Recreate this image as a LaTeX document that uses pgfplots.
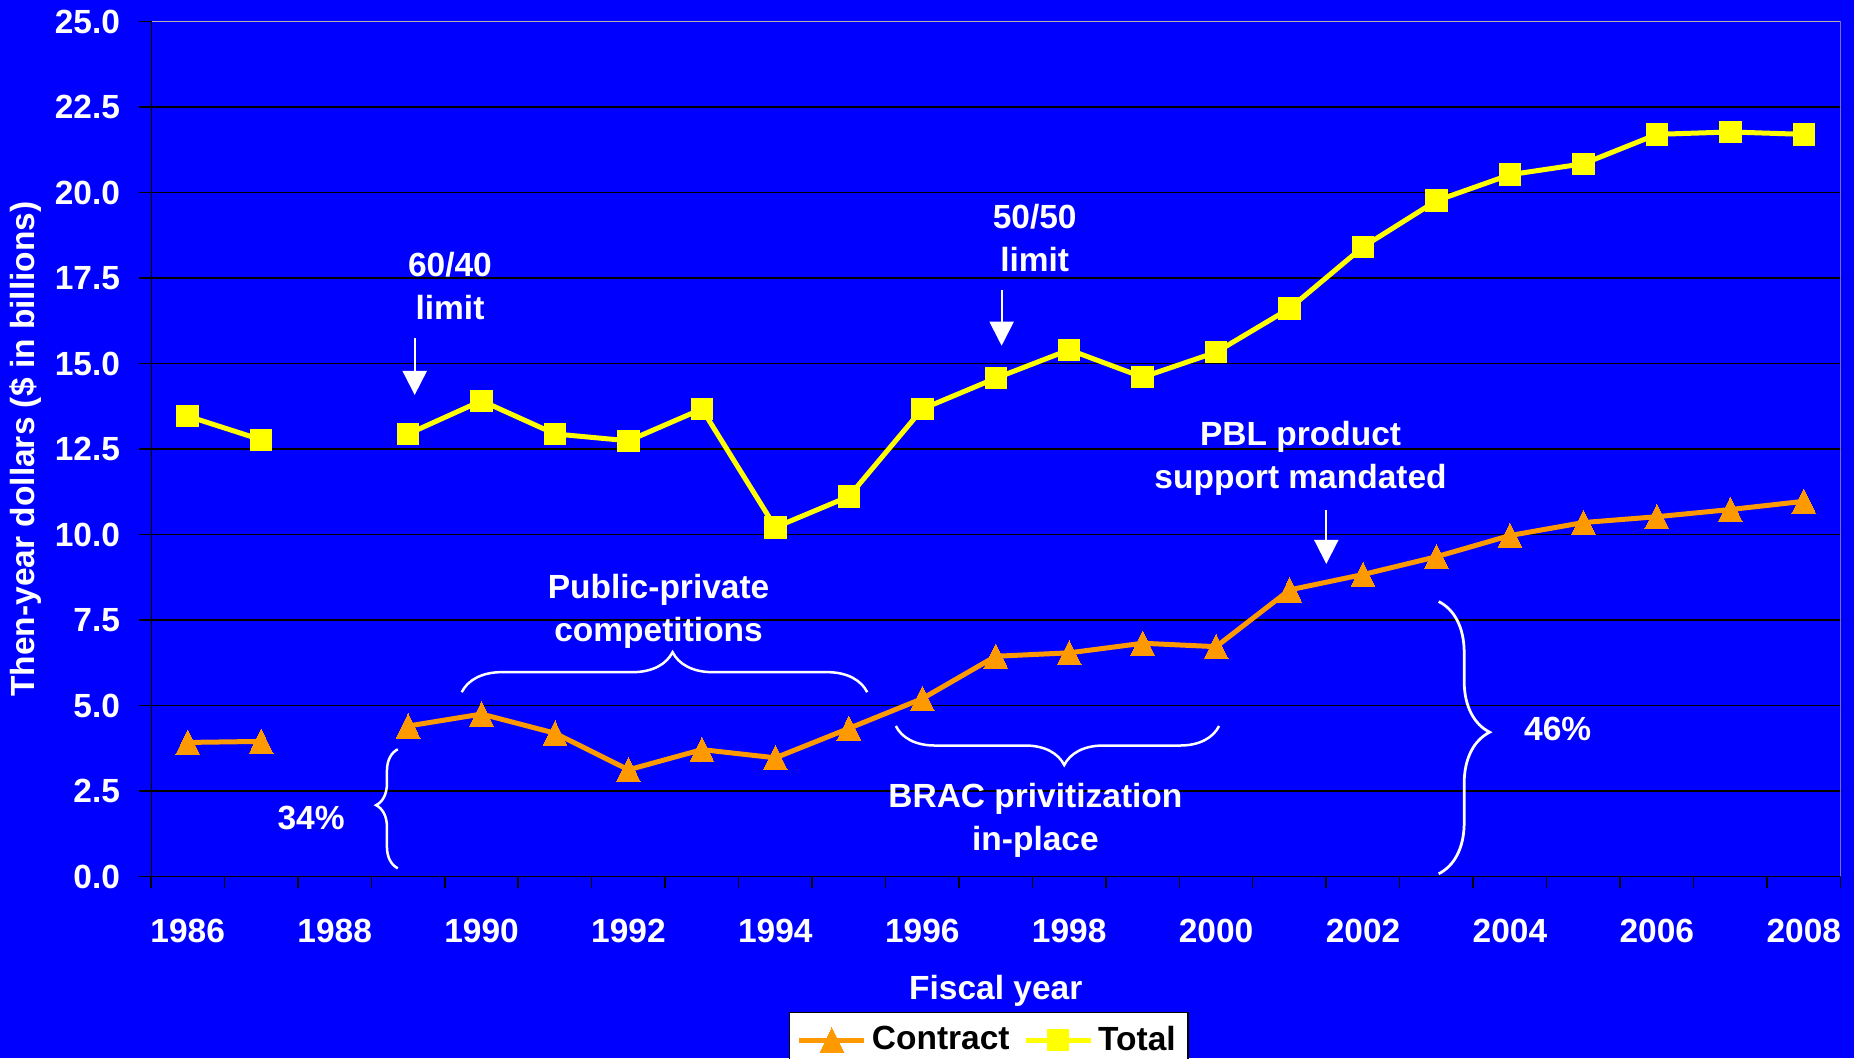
\documentclass[border=0pt]{standalone}
\usepackage{fontspec}
\setmainfont{Liberation Sans}
\usepackage{pgfplots}
\pgfplotsset{compat=1.18}
\usetikzlibrary{arrows.meta,decorations.pathreplacing}
\definecolor{bgblue}{RGB}{0,0,255}
\definecolor{cyellow}{RGB}{255,255,0}
\definecolor{corange}{RGB}{255,153,0}
\newcommand{\lf}{\fontsize{13.4}{17.2}\selectfont\bfseries}
\begin{document}
\begin{tikzpicture}
\fill[bgblue] (-60.4pt,-72.6pt) rectangle (681.2pt,350.6pt);
\begin{axis}[
  at={(0pt,0pt)}, anchor=south west,
  width=675.8pt, height=342pt, scale only axis,
  xmin=1985.5, xmax=2008.5, ymin=0, ymax=25,
  axis line style={draw=none},
  unbounded coords=jump,
  xtick={1986,1988,...,2008},
  xticklabels={1986,1988,1990,1992,1994,1996,1998,2000,2002,2004,2006,2008},
  minor xtick={1985.5,1986.5,...,2008.5},
  ytick={0,2.5,...,25},
  ymajorgrids,
  major grid style={black, line width=0.5pt},
  tick align=outside, tick pos=left,
  major tick length=4.8pt, minor tick length=4.5pt,
  tick style={black, line width=0.6pt},
  major x tick style={draw=none},
  /pgf/number format/assume math mode=true,
  ticklabel style={font=\lf, text=white},
  xticklabel style={anchor=center, inner sep=0pt, yshift=-16.9pt},
  yticklabel style={anchor=east, inner sep=0pt, xshift=-7.4pt,
    /pgf/number format/fixed, /pgf/number format/fixed zerofill, /pgf/number format/precision=1},
  xlabel={Fiscal year},
  xlabel style={at={(axis description cs:0.5,0)}, anchor=center, yshift=-45.6pt, font=\lf, text=white},
  ylabel={Then-year dollars (\$ in billions)},
  ylabel style={at={(axis description cs:-0.074,0.5)}, anchor=center, font=\lf, text=white},
  legend columns=2,
  legend style={at={(axis description cs:0.4959,-0.1582)}, anchor=north, draw=black, fill=white,
    line width=0.5pt, font=\lf, text=black, inner xsep=2.9pt, inner ysep=3.5pt,
    column sep=0pt, nodes={inner xsep=2.0pt, inner ysep=2pt},
    /tikz/every even column/.append style={column sep=3.4pt}},
  legend image code/.code={\draw[mark repeat=2,mark phase=2,#1] plot coordinates {(0pt,0pt)(13pt,0pt)(26pt,0pt)};},
]
\addplot[corange, line width=2pt, mark=triangle*, mark size=5.5pt,
  mark options={solid, fill=corange, draw=corange, line width=0pt, yshift=-1.6pt, yscale=1.18}] coordinates {
(1986,3.92)(1987,3.95)(1988,nan)(1989,4.40)(1990,4.75)(1991,4.19)(1992,3.12)(1993,3.71)
(1994,3.47)(1995,4.33)(1996,5.20)(1997,6.44)(1998,6.54)(1999,6.82)(2000,6.72)
(2001,8.38)(2002,8.83)(2003,9.35)(2004,9.97)(2005,10.35)(2006,10.52)(2007,10.73)(2008,10.97)};
\addplot[cyellow, line width=2pt, mark=square*, mark size=4.3pt,
  mark options={solid, fill=cyellow, draw=cyellow, line width=0pt}] coordinates {
(1986,13.46)(1987,12.77)(1988,nan)(1989,12.94)(1990,13.91)(1991,12.94)(1992,12.74)(1993,13.67)
(1994,10.21)(1995,11.11)(1996,13.67)(1997,14.57)(1998,15.40)(1999,14.60)(2000,15.33)
(2001,16.61)(2002,18.41)(2003,19.76)(2004,20.52)(2005,20.84)(2006,21.70)(2007,21.77)(2008,21.70)};
\legend{Contract,Total}
% borders
\draw[gray!60, line width=0.6pt] (rel axis cs:0,1) -- (rel axis cs:1,1) -- (rel axis cs:1,0);
\draw[black, line width=0.6pt] (rel axis cs:0,1) -- (rel axis cs:0,0) -- (rel axis cs:1,0);
% annotations
\node[font=\lf, text=white, align=center] at (axis cs:1989.57,17.27) {60/40\\limit};
\node[font=\lf, text=white, align=center] at (axis cs:1997.53,18.67) {50/50\\limit};
\node[font=\lf, text=white, align=center] at (axis cs:2001.15,12.23) {PBL product\\support mandated};
\node[font=\lf, text=white, align=center] at (axis cs:1992.41,7.76) {Public-private\\competitions};
\node[font=\lf, text=white, align=center] at (axis cs:1997.54,1.64) {BRAC privitization\\in-place};
\node[font=\lf, text=white] at (axis cs:1987.68,1.70) {34\%};
\node[font=\lf, text=white] at (axis cs:2004.65,4.30) {46\%};
\draw[white, line width=0.8pt, -{Triangle[width=9.6pt,length=9.6pt]}] (axis cs:1989.09,15.75) -- (axis cs:1989.09,14.08);
\draw[white, line width=0.8pt, -{Triangle[width=9.6pt,length=9.6pt]}] (axis cs:1997.08,17.15) -- (axis cs:1997.08,15.52);
\draw[white, line width=0.8pt, -{Triangle[width=9.6pt,length=9.6pt]}] (axis cs:2001.5,10.72) -- (axis cs:2001.5,9.14);
\draw[white, line width=1pt, decorate, decoration={brace, amplitude=16pt, aspect=0.52}] (axis cs:1989.73,5.39) -- (axis cs:1995.25,5.39);
\draw[white, line width=1pt, decorate, decoration={brace, amplitude=15.6pt, aspect=0.479}] (axis cs:2000.04,4.40) -- (axis cs:1995.64,4.40);
\draw[white, line width=1pt, decorate, decoration={brace, amplitude=8.7pt, aspect=0.53}] (axis cs:1988.86,0.24) -- (axis cs:1988.86,3.72);
\draw[white, line width=1.1pt, decorate, decoration={brace, amplitude=20.4pt, aspect=0.48}] (axis cs:2003.03,8.04) -- (axis cs:2003.03,0.08);
\end{axis}
\pgfresetboundingbox
\useasboundingbox (-60.4pt,-72.6pt) rectangle (681.2pt,350.6pt);
\end{tikzpicture}
\end{document}
